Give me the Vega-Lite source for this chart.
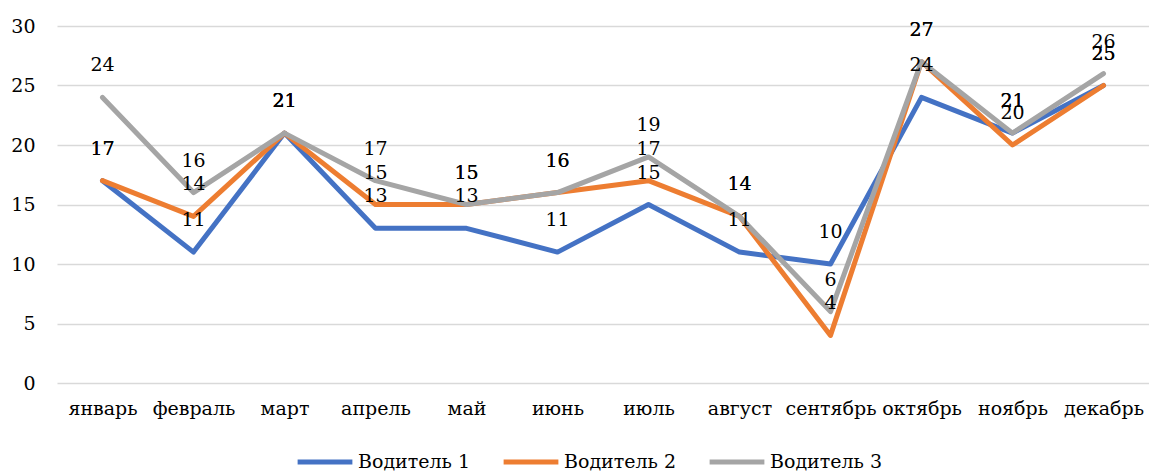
{
  "$schema": "https://vega.github.io/schema/vega-lite/v6.json",
  "autosize": "none",
  "width": 1092,
  "height": 357,
  "padding": {"left": 57, "top": 26, "right": 0, "bottom": 90},
  "background": "white",
  "config": {
    "view": {"stroke": null},
    "font": "DejaVu Serif"
  },
  "data": {
    "values": [
      {"month": "январь", "driver": "Водитель 1", "value": 17},
      {"month": "февраль", "driver": "Водитель 1", "value": 11},
      {"month": "март", "driver": "Водитель 1", "value": 21},
      {"month": "апрель", "driver": "Водитель 1", "value": 13},
      {"month": "май", "driver": "Водитель 1", "value": 13},
      {"month": "июнь", "driver": "Водитель 1", "value": 11},
      {"month": "июль", "driver": "Водитель 1", "value": 15},
      {"month": "август", "driver": "Водитель 1", "value": 11},
      {"month": "сентябрь", "driver": "Водитель 1", "value": 10},
      {"month": "октябрь", "driver": "Водитель 1", "value": 24},
      {"month": "ноябрь", "driver": "Водитель 1", "value": 21},
      {"month": "декабрь", "driver": "Водитель 1", "value": 25},
      {"month": "январь", "driver": "Водитель 2", "value": 17},
      {"month": "февраль", "driver": "Водитель 2", "value": 14},
      {"month": "март", "driver": "Водитель 2", "value": 21},
      {"month": "апрель", "driver": "Водитель 2", "value": 15},
      {"month": "май", "driver": "Водитель 2", "value": 15},
      {"month": "июнь", "driver": "Водитель 2", "value": 16},
      {"month": "июль", "driver": "Водитель 2", "value": 17},
      {"month": "август", "driver": "Водитель 2", "value": 14},
      {"month": "сентябрь", "driver": "Водитель 2", "value": 4},
      {"month": "октябрь", "driver": "Водитель 2", "value": 27},
      {"month": "ноябрь", "driver": "Водитель 2", "value": 20},
      {"month": "декабрь", "driver": "Водитель 2", "value": 25},
      {"month": "январь", "driver": "Водитель 3", "value": 24},
      {"month": "февраль", "driver": "Водитель 3", "value": 16},
      {"month": "март", "driver": "Водитель 3", "value": 21},
      {"month": "апрель", "driver": "Водитель 3", "value": 17},
      {"month": "май", "driver": "Водитель 3", "value": 15},
      {"month": "июнь", "driver": "Водитель 3", "value": 16},
      {"month": "июль", "driver": "Водитель 3", "value": 19},
      {"month": "август", "driver": "Водитель 3", "value": 14},
      {"month": "сентябрь", "driver": "Водитель 3", "value": 6},
      {"month": "октябрь", "driver": "Водитель 3", "value": 27},
      {"month": "ноябрь", "driver": "Водитель 3", "value": 21},
      {"month": "декабрь", "driver": "Водитель 3", "value": 26}
    ]
  },
  "encoding": {
    "x": {
      "field": "month",
      "type": "nominal",
      "sort": ["январь", "февраль", "март", "апрель", "май", "июнь", "июль", "август", "сентябрь", "октябрь", "ноябрь", "декабрь"],
      "scale": {"type": "point", "padding": 0.5},
      "axis": {
        "title": null,
        "labelAngle": 0,
        "labelFont": "DejaVu Serif",
        "labelFontSize": 19,
        "labelColor": "#000000",
        "labelPadding": 16,
        "domain": false,
        "ticks": false,
        "grid": false
      }
    },
    "y": {
      "field": "value",
      "type": "quantitative",
      "scale": {"domain": [0, 30], "nice": false},
      "axis": {
        "title": null,
        "values": [0, 5, 10, 15, 20, 25, 30],
        "labelFont": "DejaVu Serif",
        "labelFontSize": 19,
        "labelColor": "#000000",
        "labelPadding": 22,
        "domain": false,
        "ticks": false,
        "grid": true,
        "gridColor": "#d9d9d9",
        "gridWidth": 1.3
      }
    }
  },
  "layer": [
    {
      "mark": {"type": "line", "strokeWidth": 5, "strokeCap": "round", "strokeJoin": "round"},
      "encoding": {
        "color": {
          "field": "driver",
          "type": "nominal",
          "scale": {"domain": ["Водитель 1", "Водитель 2", "Водитель 3"], "range": ["#4472C4", "#ED7D31", "#A5A5A5"]},
          "legend": {
            "title": null,
            "orient": "none",
            "direction": "horizontal",
            "legendX": 238,
            "legendY": 406,
            "symbolType": "stroke",
            "symbolSize": 3000,
            "symbolStrokeWidth": 5,
            "labelFont": "DejaVu Serif",
            "labelFontSize": 19,
            "labelColor": "#000000",
            "labelOffset": 3,
            "columnPadding": 22,
            "labelLimit": 300
          }
        }
      }
    },
    {
      "mark": {"type": "text", "dy": -32, "baseline": "middle", "align": "center", "font": "DejaVu Serif", "fontSize": 19, "color": "#000000"},
      "encoding": {
        "text": {"field": "value", "type": "quantitative"},
        "detail": {"field": "driver"}
      }
    }
  ]
}
